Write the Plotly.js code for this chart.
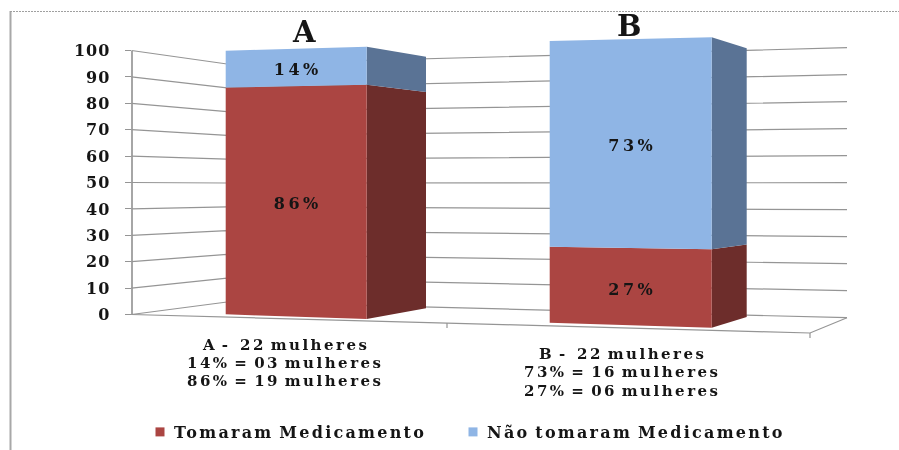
<!DOCTYPE html>
<html>
<head>
<meta charset="utf-8">
<script src="https://cdn.plot.ly/plotly-3.0.1.min.js"></script>
<style>
html,body{margin:0;padding:0;background:#fff}
#chart{width:899px;height:450px;filter:blur(.45px)}
.legendtext{letter-spacing:2.25px;word-spacing:-2px;transform:translateX(-6px)}
.legend .scrollbox{clip-path:none !important}
.annotation-text{letter-spacing:2.5px;word-spacing:-3px}
.ytick text{letter-spacing:1px}
.textpoint text{letter-spacing:3.4px}
</style>
</head>
<body>
<div id="chart"></div>
<script>
// ---- data ----
const categories = ['A', 'B'];
const tookMedication = [86, 27];
const didNotTake = [14, 73];
const seriesNames = ['Tomaram Medicamento', 'Não tomaram Medicamento'];
const notesA = ['A -  22 mulheres', '14% = 03 mulheres', '86% = 19 mulheres'];
const notesB = ['B -  22 mulheres', '73% = 16 mulheres', '27% = 06 mulheres'];
const tickValues = [0, 10, 20, 30, 40, 50, 60, 70, 80, 90, 100];

// ---- perspective calibration (horizontal position, baseline and 100-level height) ----
const W = 899, H = 450, serif = '"DejaVu Serif", "Liberation Serif", serif';
const axis0 = 314.5, axis100 = 50.5, unit = (axis0 - axis100) / 100;
const wallLevel = p => (axis0 - p) / unit;      // calibration -> value on the drawing axis
const leftFront = {x: 131.5, y0: 314.5, y100: 50.5};
const corner = {x: 227, y0: 302, y100: 64};
const rightEnd = {x: 847, y0: 317.7, y100: 47.7};
const floorFront = {x: 810, y: 333};
const columns = [
  {fl: {x: 225.7, y0: 314.3, y100: 50.7}, fr: {x: 366.7, y0: 319, y100: 46.7}, br: {x: 426, y0: 308.3, y100: 56.7}},
  {fl: {x: 549.7, y0: 322.7, y100: 41}, fr: {x: 711.7, y0: 327.7, y100: 37.3}, br: {x: 746.7, y0: 317, y100: 48.3}}
];
const project = (c, v) => wallLevel(c.y0 + (c.y100 - c.y0) * v / 100);

const colors = {
  red: '#AB4542', redSide: '#6D2D2B', blue: '#8FB5E5', blueSide: '#5A7395',
  grid: '#959595', axis: '#a6a6a6', text: '#151515'
};

const traces = [];
// invisible trace that keeps the real value axis alive
traces.push({x: [leftFront.x], y: [0], yaxis: 'y', xaxis: 'x', mode: 'none', showlegend: false, hoverinfo: 'skip', type: 'scatter'});

// gridlines along the side wall and back wall
tickValues.forEach(v => {
  traces.push({
    type: 'scatter', mode: 'lines', yaxis: 'y2', showlegend: false, hoverinfo: 'skip',
    x: [leftFront.x, corner.x, rightEnd.x],
    y: [project(leftFront, v), project(corner, v), project(rightEnd, v)],
    line: {color: colors.grid, width: 1.2}
  });
});
// floor outline and category ticks
const lineTrace = (xs, ys, col, w) => ({type: 'scatter', mode: 'lines', yaxis: 'y2', showlegend: false, hoverinfo: 'skip',
  x: xs, y: ys.map(wallLevel), line: {color: col, width: w}});
traces.push(lineTrace([leftFront.x, floorFront.x, rightEnd.x], [leftFront.y0, floorFront.y, rightEnd.y0], colors.grid, 1.2));
traces.push(lineTrace([floorFront.x, floorFront.x], [floorFront.y, floorFront.y + 5], colors.grid, 1.2));
traces.push(lineTrace([447, 447], [323, 328], colors.grid, 1.2));

// stacked columns
const face = (a, b, v0, v1, col) => ({
  type: 'scatter', mode: 'lines', fill: 'toself', fillcolor: col, yaxis: 'y2', showlegend: false, hoverinfo: 'skip',
  x: [a.x, b.x, b.x, a.x, a.x],
  y: [project(a, v0), project(b, v0), project(b, v1), project(a, v1), project(a, v0)],
  line: {width: 0, color: col}
});
categories.forEach((c, i) => {
  const k = columns[i], low = tookMedication[i], top = low + didNotTake[i];
  traces.push(face(k.fr, k.br, 0, low, colors.redSide));
  traces.push(face(k.fr, k.br, low, top, colors.blueSide));
  traces.push(face(k.fl, k.fr, 0, low, colors.red));
  traces.push(face(k.fl, k.fr, low, top, colors.blue));
  const mx = (k.fl.x + k.fr.x) / 2 + 1.5;
  const mid = {y0: (k.fl.y0 + k.fr.y0) / 2, y100: (k.fl.y100 + k.fr.y100) / 2};
  traces.push({
    type: 'scatter', mode: 'text', yaxis: 'y2', showlegend: false, hoverinfo: 'skip',
    x: [mx, mx],
    y: [project(mid, low / 2) - 1.5, project(mid, low + didNotTake[i] / 2) - 1.2],
    text: [tookMedication[i] + '%', didNotTake[i] + '%'],
    textposition: 'middle center',
    textfont: {family: serif, size: 16, color: colors.text, weight: 'bold'}
  });
});

// legend entries
[colors.red, colors.blue].forEach((col, i) => {
  traces.push({
    type: 'scatter', mode: 'markers', yaxis: 'y2', name: seriesNames[i], hoverinfo: 'skip',
    x: [null], y: [null], marker: {symbol: 'square', size: 9, color: col}
  });
});

const note = (text, x, y, size) => ({
  text, x, y: wallLevel(y), xref: 'x', yref: 'y2', showarrow: false, xanchor: 'center', yanchor: 'middle',
  font: {family: serif, size, color: colors.text, weight: 'bold'}, align: 'center'
});

const layout = {
  width: W, height: H,
  margin: {l: 0, r: 0, t: 0, b: 0},
  paper_bgcolor: '#fff', plot_bgcolor: 'rgba(0,0,0,0)',
  hovermode: false,
  xaxis: {domain: [0, 1], range: [0, W], visible: false, fixedrange: true, anchor: 'y2'},
  yaxis: {
    domain: [(H - axis0) / H, (H - axis100) / H], range: [0, 100], anchor: 'free', position: leftFront.x / W,
    tickmode: 'array', tickvals: tickValues, ticktext: tickValues.map(String),
    ticks: 'outside', ticklen: 6, tickcolor: colors.grid, tickwidth: 1,
    showline: true, linecolor: colors.axis, linewidth: 2, showgrid: false, zeroline: false,
    ticklabelstandoff: 11, tickfont: {family: serif, size: 16, color: colors.text, weight: 'bold'},
    fixedrange: true
  },
  yaxis2: {domain: [0, 1], range: [wallLevel(H), wallLevel(0)], visible: false, fixedrange: true, anchor: 'x'},
  showlegend: true,
  legend: {
    orientation: 'h', x: 140 / W, xanchor: 'left', y: (H - 432) / H, yanchor: 'middle',
    entrywidth: 268, entrywidthmode: 'pixels', itemwidth: 30, bgcolor: 'rgba(0,0,0,0)',
    font: {family: serif, size: 16, color: colors.text, weight: 'bold'}
  },
  annotations: [
    note(categories[0], 305, 31.5, 29),
    note(categories[1], 630, 26, 29)
  ].concat(
    notesA.map((t, i) => note(t, 285, 345 + 18 * i, 15)),
    notesB.map((t, i) => note(t, 622, 354 + 18.3 * i, 15))
  ),
  shapes: [
    {type: 'line', xref: 'paper', yref: 'paper', x0: 10.5 / W, x1: 10.5 / W, y0: 0, y1: (H - 11) / H, line: {color: '#a8a8a8', width: 2}},
    {type: 'line', xref: 'paper', yref: 'paper', x0: 10 / W, x1: 1, y0: (H - 11.5) / H, y1: (H - 11.5) / H, line: {color: '#a0a0a0', width: 1, dash: '2px,1px'}}
  ]
};
Plotly.newPlot('chart', traces, layout, {displayModeBar: false, staticPlot: true});
</script>
</body>
</html>
